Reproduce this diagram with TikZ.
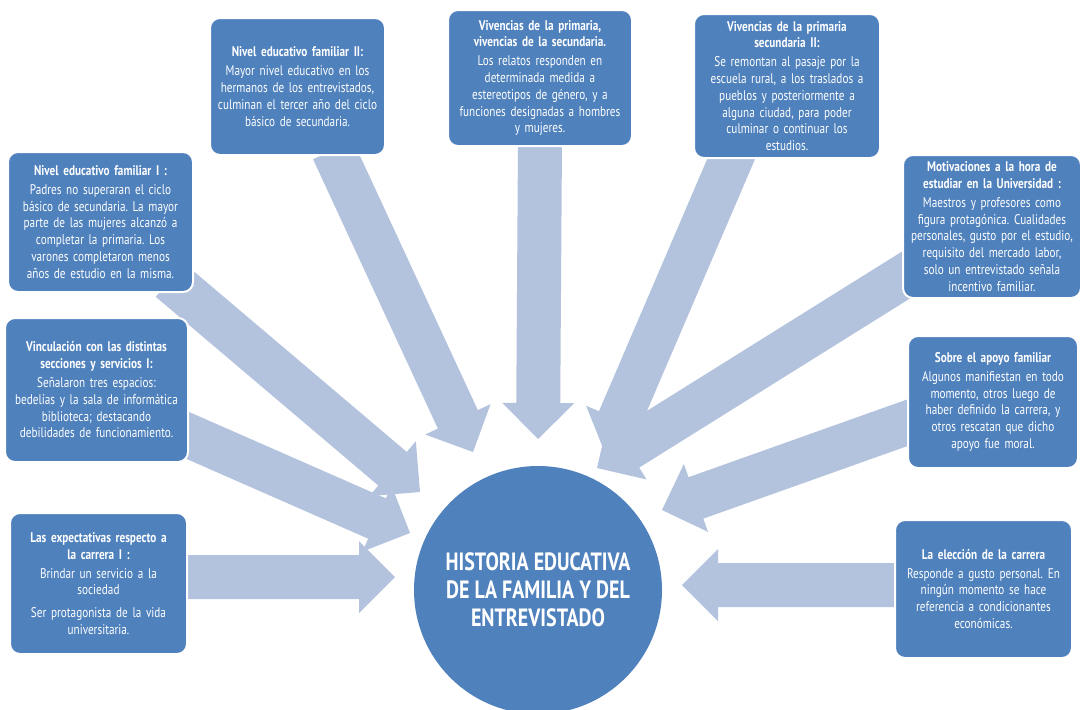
\documentclass[tikz,border=0pt]{standalone}
\usepackage{fontspec}
\setmainfont{PT Sans}[FakeStretch=0.8]
\frenchspacing
\usetikzlibrary{calc,backgrounds}

\definecolor{boxblue}{HTML}{4F81BD}
\definecolor{arrowblue}{HTML}{B3C2DD}

\tikzset{
  infobox/.style={draw=white, line width=1pt, fill=boxblue, rounded corners=5pt,
    text=white, align=center, inner sep=2pt, font=\fontsize{7}{8.4}\selectfont},
  hub/.style={circle, fill=boxblue, text=white, align=center, minimum size=124pt,
    inner sep=0pt, font=\bfseries\fontsize{12.5}{14}\selectfont},
  arrowfill/.style={fill=arrowblue}
}

% wide block arrow from tail #1 to tip #2
\newcommand{\bigarrow}[2]{%
  \coordinate (hb) at ($(#2)!18pt!(#1)$);
  \fill[arrowfill] ($(#1)!11pt!-90:(#2)$) -- ($(hb)!11pt!90:(#1)$)
    -- ($(hb)!18pt!90:(#1)$) -- (#2) -- ($(hb)!18pt!-90:(#1)$)
    -- ($(hb)!11pt!-90:(#1)$) -- ($(#1)!11pt!90:(#2)$) -- cycle;}

\begin{document}
\begin{tikzpicture}[x=0.5pt, y=-0.5pt]
  \useasboundingbox (0,0) rectangle (1081,709);

  % centre
  \node[hub] (hist) at (538,590) {HISTORIA EDUCATIVA\\DE LA FAMILIA Y DEL\\ENTREVISTADO};

  % boxes, left side
  \node[infobox, text width=88.5pt, minimum height=70pt] (niv1) at (100.5,222)
    {\textbf{Nivel educativo familiar I :}\\[1pt]
     Padres no superaran el ciclo\\ básico de secundaria. La mayor\\
     parte de las mujeres alcanzó a\\ completar la primaria. Los\\
     varones completaron menos\\ años de estudio en la misma.};
  \node[infobox, text width=87.5pt, minimum height=72pt] (vinc) at (96.5,390)
    {\textbf{Vinculación con las distintas\\ secciones y servicios I:}\\[1pt]
     Señalaron tres espacios:\\ bedelías y la sala de informática\\
     biblioteca; destacando\\ debilidades de funcionamiento.};
  \node[infobox, text width=84.5pt, minimum height=70.5pt] (expe) at (98.5,583.5)
    {\textbf{Las expectativas respecto a\\ la carrera I :}\\[1pt]
     Brindar un servicio a la\\ sociedad\\[3pt]
     Ser protagonista de la vida\\ universitaria.};

  % boxes, top
  \node[infobox, text width=83.5pt, minimum height=68.5pt] (niv2) at (297.5,86.5)
    {\textbf{Nivel educativo familiar II:}\\[1pt]
     Mayor nivel educativo en los\\ hermanos de los entrevistados,\\
     culminan el tercer año del ciclo\\ básico de secundaria.};
  \node[infobox, text width=88pt, minimum height=68pt] (viv1) at (540,78)
    {\textbf{Vivencias de la primaria,\\ vivencias de la secundaria.}\\[1pt]
     Los relatos responden en\\ determinada medida a\\
     estereotipos de género, y a\\ funciones designadas a hombres\\ y mujeres.};
  \node[infobox, text width=89pt, minimum height=72pt] (viv2) at (787,86)
    {\textbf{Vivencias de la primaria\\ secundaria II:}\\[1pt]
     Se remontan al pasaje por la\\ escuela rural, a los traslados a\\
     pueblos y posteriormente a\\ alguna ciudad, para poder\\
     culminar o continuar los\\ estudios.};

  % boxes, right side
  \node[infobox, text width=85pt, minimum height=71.5pt] (moti) at (992,226.5)
    {\textbf{Motivaciones a la hora de\\ estudiar en la Universidad :}\\[1pt]
     Maestros y profesores como\\ figura protagónica. Cualidades\\
     personales, gusto por el estudio,\\ requisito del mercado labor,\\
     solo un entrevistado señala\\ incentivo familiar.};
  \node[infobox, text width=81pt, minimum height=66pt] (apoy) at (993,402)
    {\textbf{Sobre el apoyo familiar}\\[1pt]
     Algunos manifiestan en todo\\ momento, otros luego de\\
     haber definido la carrera, y\\ otros rescatan que dicho\\ apoyo fue moral.};
  \node[infobox, text width=84.5pt, minimum height=69pt] (elec) at (983.5,589)
    {\textbf{La elección de la carrera}\\[1pt]
     Responde a gusto personal. En\\ ningún momento se hace\\
     referencia a condicionantes\\ económicas.};

  % arrow ends
  \coordinate (a1) at (170,280);  \coordinate (p1) at (420,492);
  \coordinate (a2) at (180,432);  \coordinate (p2) at (410,533);
  \coordinate (a3) at (180,577);  \coordinate (p3) at (395,577);
  \coordinate (a4) at (333,150);  \coordinate (p4) at (473,452);
  \coordinate (a5) at (540,140);  \coordinate (p5) at (538,439);
  \coordinate (a6) at (735,150);  \coordinate (p6) at (605,453);
  \coordinate (a7) at (930,260);  \coordinate (p7) at (597,468);
  \coordinate (a8) at (915,420);  \coordinate (p8) at (662,510);
  \coordinate (a9) at (900,585);  \coordinate (p9) at (682,585);

  \begin{scope}[on background layer]
    \fill[white] (0,0) rectangle (1081,709);
    \bigarrow{a1}{p1}
    \bigarrow{a2}{p2}
    \bigarrow{a3}{p3}
    \bigarrow{a4}{p4}
    \bigarrow{a5}{p5}
    \bigarrow{a6}{p6}
    \bigarrow{a7}{p7}
    \bigarrow{a8}{p8}
    \bigarrow{a9}{p9}
  \end{scope}
\end{tikzpicture}
\end{document}
